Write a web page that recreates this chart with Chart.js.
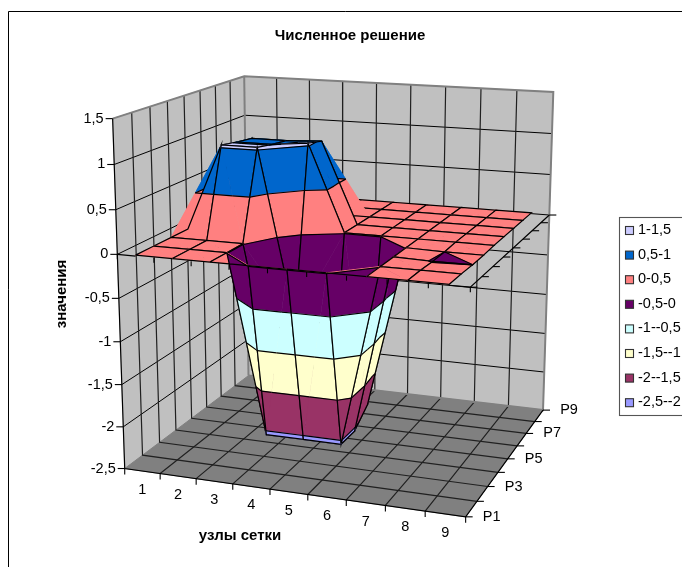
<!DOCTYPE html>
<html>
<head>
<meta charset="utf-8">
<title>Численное решение</title>
<script src="https://cdn.jsdelivr.net/npm/chart.js@4"></script>
<style>
body { margin: 0; background: #fff; }
canvas { display: block; }
</style>
</head>
<body>
<canvas id="chart" width="682" height="567"></canvas>
<script>
// chart values, one list per series (front row first)
var categories = ["1", "2", "3", "4", "5", "6", "7", "8", "9"];
var seriesNames = ["P1", "P2", "P3", "P4", "P5", "P6", "P7", "P8", "P9"];
var seriesTicks = ["P1", "P3", "P5", "P7", "P9"];
var P1 = [0.01, 0.01, 0.01, 0.01, 0.01, 0.01, 0.01, 0.01, 0.01];
var P2 = [0.01, 0.01, 0.01, -2.05, -2.05, -2.05, 0.01, 0.01, 0.01];
var P3 = [0.01, 0.01, 0.01, -2.05, -2.05, -2.05, 0.01, -0.0012, -0.00001];
var P4 = [0.01, 1.03, 1.03, -0.95, -2.05, -1.88, 0.01, -0.00001, 0.001];
var P5 = [0.01, 0.99, 0.99, 1.03, 0.01, 0.01, 0.01, 0.01, 0.01];
var P6 = [0.01, 0.96, 0.96, 0.98, 0.01, 0.01, 0.01, 0.01, 0.01];
var P7 = [0.01, 0.01, 0.01, 0.01, 0.01, 0.01, 0.01, 0.01, 0.01];
var P8 = [0.01, 0.01, 0.01, 0.01, 0.01, 0.01, 0.01, 0.01, 0.01];
var P9 = [0.01, 0.01, 0.01, 0.01, 0.01, 0.01, 0.01, 0.01, 0.01];
var rows = [P1, P2, P3, P4, P5, P6, P7, P8, P9];

var zTicks = [1.5, 1, 0.5, 0, -0.5, -1, -1.5, -2, -2.5];
var zLabels = ["1,5", "1", "0,5", "0", "-0,5", "-1", "-1,5", "-2", "-2,5"];
var bandLabels = ["1-1,5", "0,5-1", "0-0,5", "-0,5-0", "-1--0,5", "-1,5--1", "-2--1,5", "-2,5--2"];
var bandTops = [1.5, 1, 0.5, 0, -0.5, -1, -1.5, -2];
var bandColors = ["#CCCCFF", "#0066CC", "#FF8080", "#660066", "#CCFFFF", "#FFFFCC", "#993366", "#9999FF"];

// where the corners of the 3d box land on the picture: u, v, w, x, y
var view = [
	[0, 0, 0, 125, 468],
	[1, 0, 0, 466, 517],
	[1, 1, 0, 543, 410],
	[0, 1, 0, 248, 376],
	[0, 0, 1, 112, 119],
	[0, 1, 1, 245, 76],
	[1, 1, 1, 553, 92]
];

// fit a 3x4 camera to the view list
function solveCamera(list) {
	var n = 11, A = [], b = [], i, j, k;
	for (i = 0; i < n; i++) {
		A.push(new Array(n).fill(0));
		b.push(0);
	}
	function addRow(r, t) {
		for (var a = 0; a < n; a++) {
			for (var c = 0; c < n; c++) A[a][c] += r[a] * r[c];
			b[a] += r[a] * t;
		}
	}
	list.forEach(function(p) {
		addRow([p[0], p[1], p[2], 1, 0, 0, 0, 0, -p[3] * p[0], -p[3] * p[1], -p[3] * p[2]], p[3]);
		addRow([0, 0, 0, 0, p[0], p[1], p[2], 1, -p[4] * p[0], -p[4] * p[1], -p[4] * p[2]], p[4]);
	});
	for (i = 0; i < n; i++) {
		var best = i;
		for (j = i + 1; j < n; j++) if (Math.abs(A[j][i]) > Math.abs(A[best][i])) best = j;
		var tmp = A[i]; A[i] = A[best]; A[best] = tmp;
		tmp = b[i]; b[i] = b[best]; b[best] = tmp;
		for (j = i + 1; j < n; j++) {
			var f = A[j][i] / A[i][i];
			for (k = i; k < n; k++) A[j][k] -= f * A[i][k];
			b[j] -= f * b[i];
		}
	}
	var out = new Array(n).fill(0);
	for (i = n - 1; i >= 0; i--) {
		var s = b[i];
		for (k = i + 1; k < n; k++) s -= A[i][k] * out[k];
		out[i] = s / A[i][i];
	}
	return out;
}
var cam = solveCamera(view);

function project(u, v, z) {
	var w = (z + 2.5) / 4;
	var d = cam[8] * u + cam[9] * v + cam[10] * w + 1;
	return {
		x: (cam[0] * u + cam[1] * v + cam[2] * w + cam[3]) / d,
		y: (cam[4] * u + cam[5] * v + cam[6] * w + cam[7]) / d
	};
}
function colU(i) { return (i + 0.5) / categories.length; }
function rowV(j) { return j / (seriesNames.length - 1); }

var datasets = [];
function addShape(pts, fill, line, width) {
	datasets.push({
		data: pts,
		showLine: true,
		pointRadius: 0,
		borderColor: line,
		borderWidth: width,
		polyFill: fill,
		tension: 0,
		clip: false
	});
}
function path3d(list, line, width) {
	addShape(list.map(function(p) { return project(p[0], p[1], p[2]); }), null, line, width);
}

// box: walls, floor, their grids
var nU = categories.length, nV = seriesNames.length - 1, i, j, k;
var BOX_LO = -2.5, BOX_HI = 1.5;
var wallGrey = "#C0C0C0", floorGrey = "#808080";
addShape([[0, 0, BOX_LO], [0, 1, BOX_LO], [0, 1, BOX_HI], [0, 0, BOX_HI], [0, 0, BOX_LO]].map(function(p) { return project(p[0], p[1], p[2]); }), wallGrey, wallGrey, 1);
addShape([[0, 1, BOX_LO], [1, 1, BOX_LO], [1, 1, BOX_HI], [0, 1, BOX_HI], [0, 1, BOX_LO]].map(function(p) { return project(p[0], p[1], p[2]); }), wallGrey, wallGrey, 1);
addShape([[0, 0, BOX_LO], [1, 0, BOX_LO], [1, 1, BOX_LO], [0, 1, BOX_LO], [0, 0, BOX_LO]].map(function(p) { return project(p[0], p[1], p[2]); }), floorGrey, floorGrey, 1);
for (i = 1; i < zTicks.length - 1; i++) {
	path3d([[0, 0, zTicks[i]], [0, 1, zTicks[i]], [1, 1, zTicks[i]]], "#000", 1);
}
for (k = 1; k < nV; k++) path3d([[0, k / nV, BOX_HI], [0, k / nV, BOX_LO], [1, k / nV, BOX_LO]], "#202020", 1.2);
for (k = 1; k < nU; k++) path3d([[k / nU, 1, BOX_HI], [k / nU, 1, BOX_LO], [k / nU, 0, BOX_LO]], "#202020", 1.2);
path3d([[0, 0, BOX_HI], [0, 1, BOX_HI], [1, 1, BOX_HI], [1, 1, BOX_LO], [0, 1, BOX_LO]], floorGrey, 2);
path3d([[0, 1, BOX_HI], [0, 1, BOX_LO]], floorGrey, 2);

// clip a triangle to one colour band
function clipBand(tri, lo, hi) {
	function cut(poly, level, keepAbove) {
		var out = [];
		for (var a = 0; a < poly.length; a++) {
			var p = poly[a], q = poly[(a + 1) % poly.length];
			var inP = keepAbove ? p[2] >= level : p[2] <= level;
			var inQ = keepAbove ? q[2] >= level : q[2] <= level;
			if (inP) out.push(p);
			if (inP !== inQ) {
				var t = (level - p[2]) / (q[2] - p[2]);
				out.push([p[0] + (q[0] - p[0]) * t, p[1] + (q[1] - p[1]) * t, level]);
			}
		}
		return out;
	}
	var poly = cut(tri, lo, true);
	if (poly.length) poly = cut(poly, hi, false);
	return poly;
}
function contourSeg(tri, level) {
	var out = [];
	for (var a = 0; a < 3; a++) {
		var p = tri[a], q = tri[(a + 1) % 3];
		if ((p[2] < level) !== (q[2] < level)) {
			var t = (level - p[2]) / (q[2] - p[2]);
			out.push([p[0] + (q[0] - p[0]) * t, p[1] + (q[1] - p[1]) * t, level]);
		}
	}
	return out;
}

// surface, painted from the back row forward
function node(a, b) { return [colU(a), rowV(b), rows[b][a]]; }
for (j = nV - 1; j >= 0; j--) {
	for (i = 0; i < nU - 1; i++) {
		var a = node(i, j), b = node(i + 1, j), c = node(i + 1, j + 1), d = node(i, j + 1);
		// split each cell along its higher diagonal
		var tris = a[2] + c[2] > b[2] + d[2] ? [[a, b, c], [a, c, d]] : [[a, b, d], [b, c, d]];
		tris.forEach(function(tri) {
			bandTops.forEach(function(top, n) {
				var poly = clipBand(tri, top - 0.5, top);
				if (poly.length < 3) return;
				var pts = poly.map(function(p) { return project(p[0], p[1], p[2]); });
				pts.push(pts[0]);
				addShape(pts, bandColors[n], bandColors[n], 0.6);
			});
		});
		tris.forEach(function(tri) {
			bandTops.forEach(function(top) {
				var seg = contourSeg(tri, top);
				if (seg.length === 2) path3d(seg, "#000", 1.2);
			});
		});
		path3d([a, b, c, d, a], "#000", 1.2);
	}
}

// axes on top: floor edges and the zero level lines
var AXIS = "#000";
path3d([[0, 0, BOX_HI], [0, 0, BOX_LO], [1, 0, BOX_LO], [1, 1, BOX_LO]], AXIS, 1.2);
path3d([[0, 0, 0], [colU(0), 0, 0]], AXIS, 1.2);
path3d([[colU(nU - 1), 0, 0], [1, 0, 0], [1, 1, 0]], AXIS, 1.2);

// chart page decoration and text, taken from the lists above
var FONT = '"Liberation Sans", Arial, sans-serif';
var textPlugin = {
	id: "textPlugin",
	beforeDatasetDraw: function(chart, args) {
		var fill = chart.data.datasets[args.index].polyFill;
		if (!fill) return;
		var pts = args.meta.data, ctx = chart.ctx;
		ctx.save();
		ctx.fillStyle = fill;
		ctx.beginPath();
		for (var n = 0; n < pts.length; n++) {
			if (n === 0) ctx.moveTo(pts[n].x, pts[n].y); else ctx.lineTo(pts[n].x, pts[n].y);
		}
		ctx.closePath();
		ctx.fill();
		ctx.restore();
	},
	afterDraw: function(chart) {
		var ctx = chart.ctx, sx = chart.scales.x, sy = chart.scales.y, n, p;
		function px(pt) { return { x: sx.getPixelForValue(pt.x), y: sy.getPixelForValue(pt.y) }; }
		function seg(a, b, dx, dy) {
			ctx.beginPath();
			ctx.moveTo(a.x, a.y);
			ctx.lineTo(b.x + dx, b.y + dy);
			ctx.stroke();
		}
		ctx.save();
		// outer frame
		ctx.strokeStyle = "#000";
		ctx.lineWidth = 1;
		ctx.beginPath();
		ctx.moveTo(8.5, 567);
		ctx.lineTo(8.5, 11.5);
		ctx.lineTo(682, 11.5);
		ctx.stroke();

		ctx.lineWidth = 1.1;
		ctx.fillStyle = "#000";
		ctx.font = "14.5px " + FONT;
		ctx.textBaseline = "middle";
		// value axis
		ctx.textAlign = "right";
		zTicks.forEach(function(z, t) {
			p = px(project(0, 0, z));
			seg(p, p, -7, 0);
			ctx.fillText(zLabels[t], p.x - 9, p.y);
		});
		// category axis
		ctx.textAlign = "center";
		for (n = 0; n <= nU; n++) {
			p = px(project(n / nU, 0, BOX_LO));
			seg(p, p, 0, 6);
			p = px(project(n / nU, 0, 0));
			seg(p, p, 0, 5);
		}
		categories.forEach(function(c, t) {
			p = px(project(colU(t), 0, BOX_LO));
			ctx.fillText(c, p.x, p.y + 19);
		});
		// series axis
		for (n = 0; n <= nV; n++) {
			p = px(project(1, n / nV, BOX_LO));
			seg(p, p, 7, 0);
			p = px(project(1, n / nV, 0));
			seg(p, p, 7, 0);
		}
		seriesTicks.forEach(function(s) {
			p = px(project(1, seriesNames.indexOf(s) / nV, BOX_LO));
			ctx.fillText(s, p.x + 26, p.y);
		});
		// titles
		ctx.font = "bold 15px " + FONT;
		ctx.fillText("Численное решение", 350, 36);
		ctx.fillText("узлы сетки", 240, 536);
		ctx.save();
		ctx.translate(62, 294);
		ctx.rotate(-Math.PI / 2);
		ctx.fillText("значения", 0, 0);
		ctx.restore();
		// legend
		ctx.strokeStyle = "#555";
		ctx.strokeRect(619.5, 217.5, 70, 198);
		ctx.font = "14.5px " + FONT;
		ctx.textAlign = "left";
		bandLabels.forEach(function(label, t) {
			var y = 230 + t * 24.6;
			ctx.fillStyle = bandColors[t];
			ctx.fillRect(625.5, y - 3.5, 8, 8);
			ctx.strokeStyle = "#333";
			ctx.strokeRect(625.5, y - 3.5, 8, 8);
			ctx.fillStyle = "#000";
			ctx.fillText(label, 638, y);
		});
		ctx.restore();
	}
};

// paint order is first pushed first, chart.js draws the last dataset first
datasets.reverse();
new Chart(document.getElementById("chart"), {
	type: "scatter",
	data: { datasets: datasets },
	plugins: [textPlugin],
	options: {
		responsive: false,
		animation: false,
		events: [],
		layout: { padding: 0 },
		plugins: { legend: { display: false }, tooltip: { enabled: false }, title: { display: false } },
		scales: {
			x: { display: false, min: 0, max: 682 },
			y: { display: false, min: 0, max: 567, reverse: true }
		}
	}
});
</script>
</body>
</html>
